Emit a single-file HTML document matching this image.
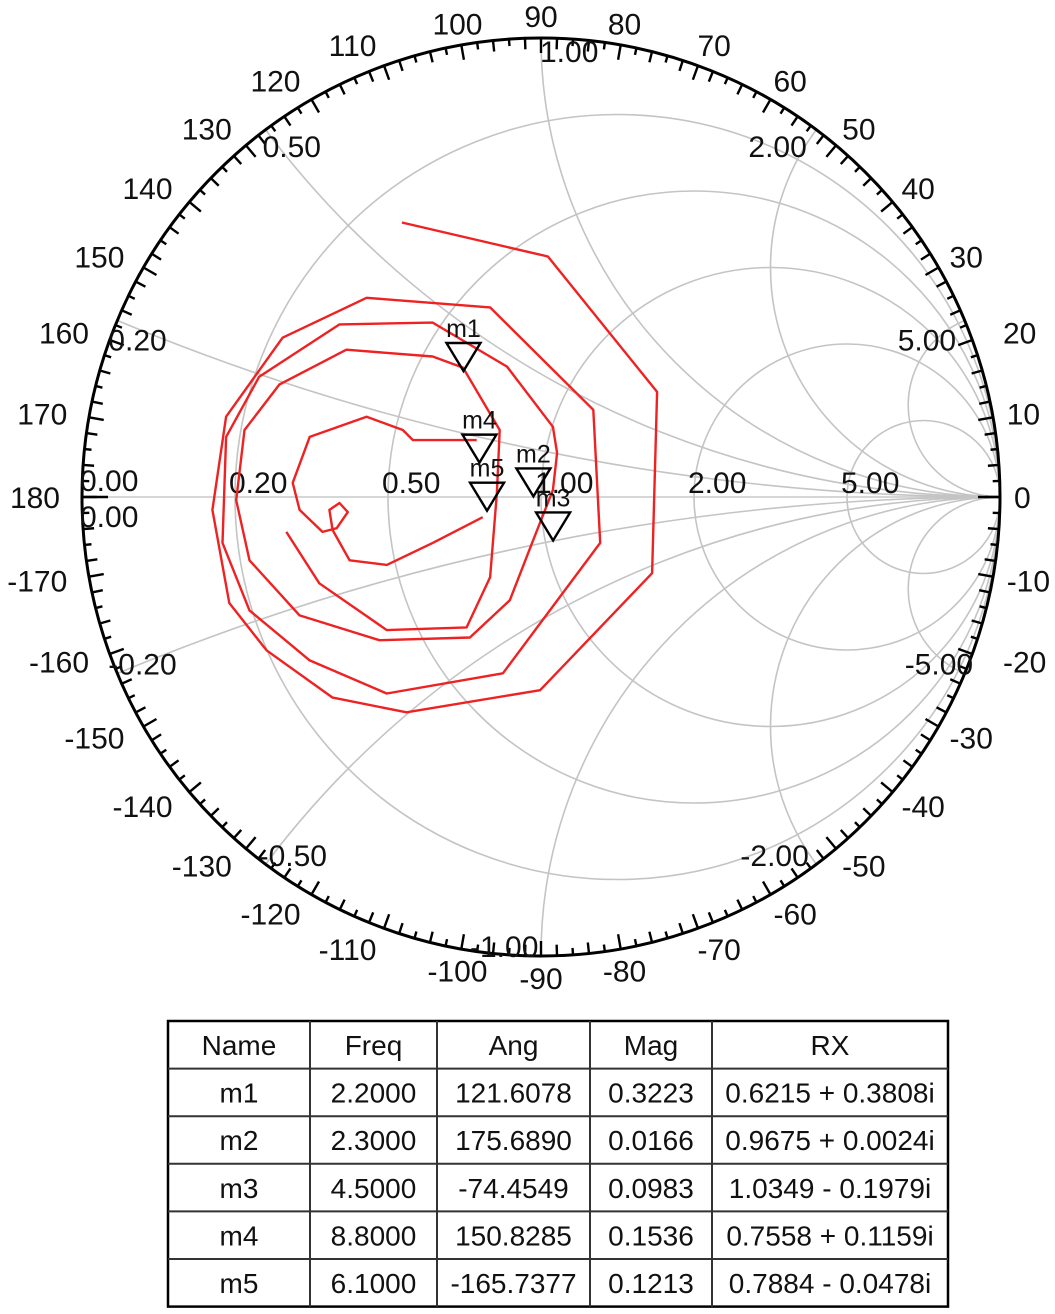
<!DOCTYPE html>
<html><head><meta charset="utf-8"><style>
body{margin:0;background:#fff;width:1055px;height:1314px;overflow:hidden;font-family:"Liberation Sans",sans-serif}
svg{position:absolute;left:0;top:0}
</style></head><body>
<svg id="smith" width="1055" height="1314" viewBox="0 0 1055 1314" xmlns="http://www.w3.org/2000/svg">
<defs><clipPath id="uc"><circle cx="541" cy="497" r="459"/></clipPath></defs>
<g id="grid" clip-path="url(#uc)"></g>
<g id="ring"></g>
<g id="labels"></g>
<g id="traces" clip-path="url(#uc)"></g>
<g id="markers"></g>
</svg>
<script>
// ---- data ----
const rValues=[0.2,0.5,1,2,5];
const xValues=[0.2,0.5,1,2,5,-0.2,-0.5,-1,-2,-5];
const rLabels=["0.20","0.50","1.00","2.00","5.00"];
const xLabels=["0.20","0.50","1.00","2.00","5.00","-0.20","-0.50","-1.00","-2.00","-5.00"];
const outerRe=[-0.303,0.015,0.253,0.242,-0.002,-0.293,-0.454,-0.598,-0.679,-0.716,-0.686,-0.563,-0.380,-0.111,0.114,0.129,-0.083,-0.336,-0.504,-0.635,-0.694,-0.686,-0.614,-0.439,-0.236,-0.074,0.026,0.035,0.026,-0.017,-0.068,-0.155,-0.352,-0.526,-0.635,-0.664,-0.646,-0.570,-0.424,-0.236,-0.170,-0.090,-0.096,-0.111,-0.162,-0.336,-0.483,-0.555];
const outerIm=[0.598,0.524,0.229,-0.166,-0.421,-0.469,-0.437,-0.334,-0.231,-0.028,0.175,0.347,0.434,0.413,0.190,-0.100,-0.384,-0.428,-0.356,-0.247,-0.100,0.131,0.262,0.376,0.380,0.284,0.153,0.096,0.015,-0.094,-0.225,-0.306,-0.312,-0.258,-0.138,-0.007,0.146,0.245,0.321,0.306,0.282,0.146,0.009,-0.175,-0.284,-0.290,-0.188,-0.076];
const innerRe=[-0.140,-0.279,-0.301,-0.380,-0.504,-0.541,-0.526,-0.476,-0.445,-0.421,-0.439,-0.461,-0.454,-0.417,-0.336,-0.236,-0.127];
const innerIm=[0.124,0.124,0.146,0.175,0.131,0.031,-0.028,-0.076,-0.068,-0.033,-0.013,-0.028,-0.072,-0.138,-0.148,-0.100,-0.044];
const markerNames=["m1","m2","m3","m4","m5"];
const markerMag=[0.3223,0.0166,0.0983,0.1536,0.1213];
const markerAng=[121.6078,175.6890,-74.4549,150.8285,-165.7377];
const freqs=["2.2000","2.3000","4.5000","8.8000","6.1000"];
const rxText=["0.6215 + 0.3808i","0.9675 + 0.0024i","1.0349 - 0.1979i","0.7558 + 0.1159i","0.7884 - 0.0478i"];
// ---- layout ----
const xLabelDx=[-9,-3,-1,-68,-67,-9,-7,-71,-76,-60];
const xLabelDy=[30,27,24,27,30,1,2,1,2,1];
const CX=541,CY=497,R=459,NS="http://www.w3.org/2000/svg";
const px=g=>CX+g*R, py=g=>CY-g*R;
function mk(tag,attrs,parent){const e=document.createElementNS(NS,tag);for(const k in attrs)e.setAttribute(k,attrs[k]);parent.appendChild(e);return e;}
const grid=document.getElementById('grid'),ring=document.getElementById('ring'),labels=document.getElementById('labels');
let l=mk('line',{x1:CX-R,y1:CY,x2:CX+R,y2:CY,stroke:'#c8c8c8','stroke-width':1.6},grid);


rValues.forEach((r,i)=>{
 const c=mk('circle',{cx:px(r/(1+r)),cy:CY,r:R/(1+r),fill:'none',stroke:'#c4c4c4','stroke-width':1.6},grid);
 
 
 const t=mk('text',{x:px((r-1)/(r+1))-6,y:CY-4,'font-size':30,fill:'#111'},labels);t.textContent=rLabels[i];
 
 
});
xValues.forEach((x,i)=>{
 const c=mk('circle',{cx:px(1),cy:py(1/x),r:Math.abs(R/x),fill:'none',stroke:'#c4c4c4','stroke-width':1.6},grid);
 
 
 const a=Math.PI-2*Math.atan(x);
 const t=mk('text',{x:CX+R*Math.cos(a)+xLabelDx[i],y:CY-R*Math.sin(a)+xLabelDy[i],'font-size':30,fill:'#111'},labels);
 t.textContent=xLabels[i];
 
 
});
let t0=mk('text',{x:80,y:491,'font-size':30,fill:'#111'},labels);t0.textContent="0.00";


let t1=mk('text',{x:80,y:527,'font-size':30,fill:'#111'},labels);t1.textContent="0.00";


let oc=mk('circle',{cx:CX,cy:CY,r:R,fill:'none',stroke:'#000','stroke-width':3},ring);


for(let d=0;d<360;d+=2){
 const a=d*Math.PI/180,len=(d%10==0)?15:(d%4==0?11:7);
 const tk=mk('line',{x1:CX+R*Math.cos(a),y1:CY-R*Math.sin(a),x2:CX+(R-len)*Math.cos(a),y2:CY-(R-len)*Math.sin(a),stroke:'#000','stroke-width':2.4},ring);
 
 
}
mk('line',{x1:CX-R,y1:CY,x2:CX-R+26,y2:CY,stroke:'#000','stroke-width':2.4},ring);
mk('line',{x1:CX+R,y1:CY,x2:CX+R-22,y2:CY,stroke:'#000','stroke-width':2.4},ring);
for(let d=-170;d<=180;d+=10){
 const a=d*Math.PI/180,c=Math.cos(a),s=Math.sin(a);
 const rr=R+22;
 let x=CX+rr*c,anchor='middle';
 if(c>0.2){anchor='start';x-=8;if(c>0.9)x=Math.max(x,CX+R+(d==0?12:3));} else if(c<-0.2){anchor='end';}
 const t=mk('text',{x:x,y:CY-rr*s+11,'font-size':30,fill:'#111','text-anchor':anchor},ring);
 t.textContent=String(d);
 
 
}
const tr=document.getElementById('traces');
function poly(re,im,name){const p=re.map((v,i)=>px(v).toFixed(1)+','+py(im[i]).toFixed(1)).join(' ');
 const e=mk('polyline',{points:p,fill:'none',stroke:'#ee2222','stroke-width':2.4,'stroke-linejoin':'round'},tr);
 
 }
poly(outerRe,outerIm,'s11-trace-outer');
poly(innerRe,innerIm,'s11-trace-inner');
const mg=document.getElementById('markers');
markerNames.forEach((n,i)=>{
 const a=markerAng[i]*Math.PI/180,x=px(markerMag[i]*Math.cos(a)),y=py(markerMag[i]*Math.sin(a));
 const m=mk('polygon',{points:`${x},${y} ${x-17},${y-28} ${x+17},${y-28}`,fill:'none',stroke:'#000','stroke-width':2.4},mg);
 
 
 const t=mk('text',{x:x,y:y-34,'font-size':25,fill:'#111','text-anchor':'middle'},mg);t.textContent=n;
 
 
});
const cols=[168,310,437,590,712,948],rowH=47.6,tableTop=1021;
const tb=mk('g',{},document.getElementById('smith'));


const th=rowH*6;
mk('rect',{x:168,y:tableTop,width:780,height:th,fill:'#fff',stroke:'#000','stroke-width':2.5},tb);
cols.slice(1,5).forEach(c=>mk('line',{x1:c,y1:tableTop,x2:c,y2:tableTop+th,stroke:'#333','stroke-width':2},tb));
for(let r=1;r<6;r++)mk('line',{x1:168,y1:tableTop+r*rowH,x2:948,y2:tableTop+r*rowH,stroke:'#333','stroke-width':2},tb);
const hdr=["Name","Freq","Ang","Mag","RX"];
const rows=[hdr].concat(markerNames.map((n,i)=>[n,freqs[i],markerAng[i].toFixed(4),markerMag[i].toFixed(4),rxText[i]]));
rows.forEach((row,ri)=>row.forEach((v,ci)=>{
 const t=mk('text',{x:(cols[ci]+cols[ci+1])/2,y:tableTop+ri*rowH+34,'font-size':28,fill:'#111','text-anchor':'middle'},tb);
 t.textContent=v;
 
 
}));
</script>
</body></html>
